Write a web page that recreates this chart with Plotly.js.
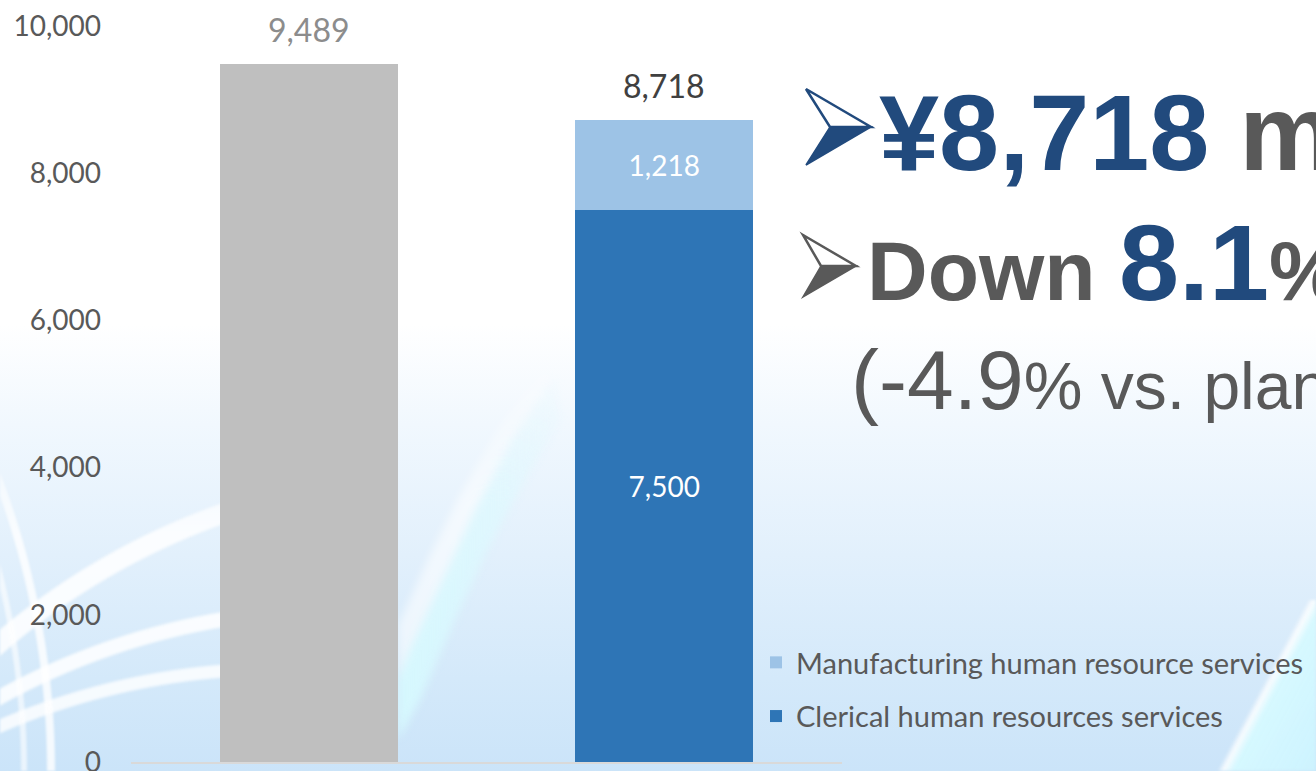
<!DOCTYPE html>
<html>
<head>
<meta charset="utf-8">
<script src="https://cdn.plot.ly/plotly-3.0.1.min.js"></script>
<style>
html, body { margin:0; padding:0; }
body {
  position: relative;
  width:1316px; height:771px; overflow:hidden;
  background: linear-gradient(to bottom, #ffffff 0%, #ffffff 42%, #f1f8fe 55%, #e2f0fc 72%, #d4e9fa 88%, #cbe4f9 100%);
}
.deco { position:absolute; pointer-events:none; }
#ringsL {
  left:0; top:380px; width:330px; height:391px;
  filter: blur(1px);
  background:
    radial-gradient(circle at 456px 793px,
      transparent 688px, rgba(255,255,255,0.85) 691px, rgba(255,255,255,0.85) 708px, transparent 711px),
    radial-gradient(circle at 338px 930px,
      transparent 691px, rgba(255,255,255,0.85) 694px, rgba(255,255,255,0.85) 706px, transparent 709px),
    radial-gradient(circle at 277px 989px,
      transparent 692px, rgba(255,255,255,0.8) 695px, rgba(255,255,255,0.8) 705px, transparent 708px),
    radial-gradient(circle at -782px 391px,
      transparent 802px, rgba(255,255,255,0.6) 804px, rgba(255,255,255,0.6) 808px, transparent 810px,
      transparent 828px, rgba(255,255,255,0.8) 830px, rgba(255,255,255,0.8) 836px, transparent 838px);
  -webkit-mask-image: linear-gradient(to bottom, transparent 0%, black 40%);
  mask-image: linear-gradient(to bottom, transparent 0%, black 40%);
}
#bandMwrap {
  left:398px; top:330px; width:178px; height:432px;
  filter: blur(4px);
  -webkit-mask-image: linear-gradient(to bottom, transparent 0%, black 40%);
  mask-image: linear-gradient(to bottom, transparent 0%, black 40%);
}
#bandA, #bandB { position:absolute; left:0; top:0; width:178px; height:432px; }
#bandA {
  background: rgba(255,255,255,0.55);
  clip-path: polygon(0px 295px, 32px 225px, 62px 165px, 102px 95px, 147px 35px, 157px 45px, 114px 110px, 77px 180px, 47px 245px, 12px 320px, 0px 350px);
}
#bandB {
  background: linear-gradient(to right, rgba(215,252,255,0.8), rgba(225,248,255,0.4));
  clip-path: polygon(0px 350px, 12px 320px, 47px 245px, 77px 180px, 114px 110px, 157px 45px, 162px 90px, 127px 150px, 92px 215px, 57px 290px, 22px 370px, 0px 410px);
}
#bandR {
  left:1200px; top:600px; width:116px; height:171px;
  filter: blur(1.5px);
  background: linear-gradient(118deg, transparent 52%, rgba(255,255,255,0.85) 55%, rgba(214,250,255,0.9) 60%, rgba(205,245,255,0.85) 100%);
}
#chart { position:absolute; left:0; top:0; width:1316px; height:771px; }
</style>
</head>
<body>
<div class="deco" id="ringsL"></div>
<div class="deco" id="bandMwrap"><div id="bandA"></div><div id="bandB"></div></div>
<div class="deco" id="bandR"></div>
<div id="chart"></div>
<script>
// ---- data ----
const categories = ['Previous year', 'Current year'];
const previousTotal = [9489];
const clericalValues = [7500];
const manufacturingValues = [1218];
const yTicks = [0, 2000, 4000, 6000, 8000, 10000];
const seriesNames = ['Clerical human resources services', 'Manufacturing human resource services'];

const currentTotal = clericalValues[0] + manufacturingValues[0];
const fmt = v => v.toLocaleString('en-US');

const traces = [
  {
    type: 'bar', x: [categories[0]], y: previousTotal,
    marker: { color: '#bfbfbf' }, showlegend: false, hoverinfo: 'skip'
  },
  {
    type: 'bar', x: [categories[1]], y: clericalValues, name: seriesNames[0],
    marker: { color: '#2e75b6' }, legendgroup: 'clerical', legendrank: 2,
    text: clericalValues.map(fmt), textposition: 'inside', insidetextanchor: 'middle',
    textfont: { family: 'Lato', size: 28, color: '#ffffff' }
  },
  {
    type: 'bar', x: [categories[1]], y: manufacturingValues, name: seriesNames[1],
    marker: { color: '#9dc3e6' }, legendgroup: 'manufacturing', legendrank: 1,
    text: manufacturingValues.map(fmt), textposition: 'inside', insidetextanchor: 'middle',
    textfont: { family: 'Lato', size: 28, color: '#ffffff' }
  }
];

const px = p => (p - 131) / 711;
const py = p => (762 - p) / 736;
const pathOf = pts => 'M' + pts.map(p => px(p[0]) + ',' + py(p[1])).join('L') + 'Z';

const BLUE = '#214a7d', GRAY = '#595959';

// decorative arrowhead bullets
const shapes = [
  { type: 'path', xref: 'paper', yref: 'paper', path: pathOf([[806, 89], [871, 127], [830, 127]]),
    fillcolor: '#ffffff', line: { color: BLUE, width: 2.5 } },
  { type: 'path', xref: 'paper', yref: 'paper', path: pathOf([[830, 127], [871, 127], [806, 165]]),
    fillcolor: BLUE, line: { color: BLUE, width: 1.5 } },
  { type: 'path', xref: 'paper', yref: 'paper', path: pathOf([[803, 235], [856, 266], [821, 266]]),
    fillcolor: '#ffffff', line: { color: GRAY, width: 2.5 } },
  { type: 'path', xref: 'paper', yref: 'paper', path: pathOf([[821, 266], [856, 266], [803, 297]]),
    fillcolor: GRAY, line: { color: GRAY, width: 1.5 } }
];

const annotations = [
  { xref: 'x', yref: 'y', x: categories[0], y: previousTotal[0], text: fmt(previousTotal[0]),
    showarrow: false, yanchor: 'bottom', yshift: 13,
    font: { family: 'Lato', size: 32, color: '#8c8c8c' } },
  { xref: 'x', yref: 'y', x: categories[1], y: currentTotal, text: fmt(currentTotal),
    showarrow: false, yanchor: 'bottom', yshift: 13,
    font: { family: 'Lato', size: 32, color: '#404040' } },
  { xref: 'paper', yref: 'paper', x: px(878), y: py(132), xanchor: 'left', yanchor: 'middle',
    showarrow: false, borderpad: 0,
    text: '<b><span style="color:' + BLUE + '">¥8,718</span> m</b>',
    font: { family: 'Liberation Sans', size: 108, color: GRAY } },
  { xref: 'paper', yref: 'paper', x: px(866), y: py(262), xanchor: 'left', yanchor: 'middle',
    showarrow: false, borderpad: 0,
    text: '<b>Down <span style="font-size:108px;color:' + BLUE + '">8.1</span>%</b>',
    font: { family: 'Liberation Sans', size: 84, color: GRAY } },
  { xref: 'paper', yref: 'paper', x: px(850), y: py(380), xanchor: 'left', yanchor: 'middle',
    showarrow: false, borderpad: 0,
    text: '(-4.9<span style="font-size:66px">% vs. plan)</span>',
    font: { family: 'Liberation Sans', size: 84, color: GRAY } }
];

const layout = {
  width: 1316, height: 771,
  margin: { l: 131, r: 474, t: 26, b: 9, pad: 0, autoexpand: false },
  paper_bgcolor: 'rgba(0,0,0,0)', plot_bgcolor: 'rgba(0,0,0,0)',
  barmode: 'stack', bargap: 0.5,
  xaxis: { type: 'category', range: [-0.5, 1.5], showticklabels: false, ticks: '',
           showgrid: false, zeroline: false, showline: true, linecolor: '#d9d9d9', linewidth: 2, fixedrange: true },
  yaxis: { range: [0, 10000], tickvals: yTicks, ticktext: yTicks.map(fmt), showgrid: false, zeroline: false,
           showline: false, ticks: '', ticklabelstandoff: 29, ticklabeloverflow: 'allow',
           tickfont: { family: 'Lato', size: 28, color: GRAY }, fixedrange: true },
  showlegend: true,
  legend: { xref: 'container', yref: 'container', x: 756 / 1316, y: 1 - 637 / 771,
            xanchor: 'left', yanchor: 'top', traceorder: 'grouped', tracegroupgap: 13,
            bgcolor: 'rgba(0,0,0,0)', font: { family: 'Lato', size: 29, color: GRAY } },
  shapes: shapes,
  annotations: annotations,
  font: { family: 'Lato' }
};

Plotly.newPlot('chart', traces, layout, { staticPlot: true, displayModeBar: false });
</script>
</body>
</html>
